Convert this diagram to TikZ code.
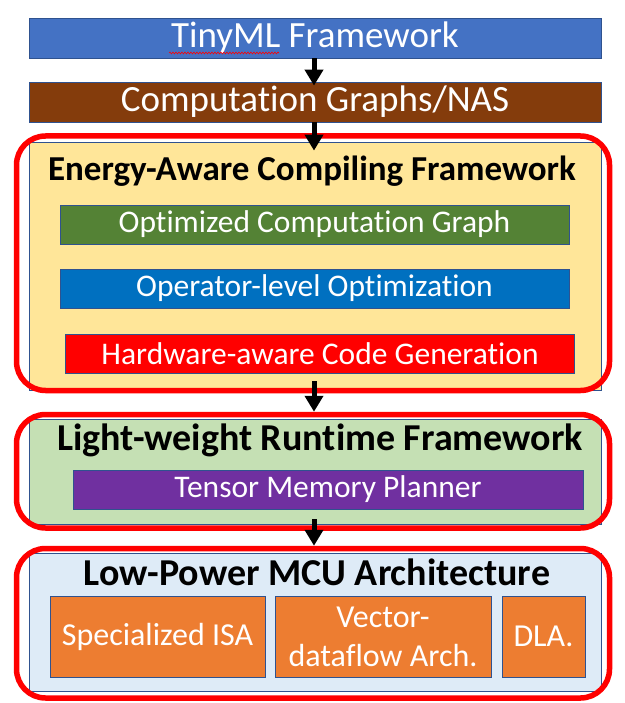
\documentclass[tikz,border=0pt]{standalone}
\usepackage{fontspec}
\setmainfont{Carlito}[RawFeature=-liga,RawFeature=-clig,RawFeature=-dlig,RawFeature=-calt]
\usetikzlibrary{positioning, arrows.meta, decorations.pathmorphing}

\definecolor{tinyblue}{HTML}{4472C4}
\definecolor{graphbrown}{HTML}{843C0C}
\definecolor{edgeblue}{HTML}{2F528F}
\definecolor{compyellow}{HTML}{FFE699}
\definecolor{optgreen}{HTML}{548235}
\definecolor{opblue}{HTML}{0070C0}
\definecolor{genred}{HTML}{FF0000}
\definecolor{runtimegreen}{HTML}{C5E0B4}
\definecolor{plannerpurple}{HTML}{7030A0}
\definecolor{mcublue}{HTML}{DEEBF7}
\definecolor{hworange}{HTML}{ED7D31}

\begin{document}
\begin{tikzpicture}[x=1pt,y=-1pt,on grid,
    box/.style={draw=edgeblue,line width=0.8pt,text=white,inner sep=0pt,
      minimum width=572pt,minimum height=40pt,font=\fontsize{37}{44}\selectfont},
    sub/.style={box,minimum width=509pt,minimum height=39pt,font=\fontsize{31.5}{38}\selectfont},
    hw/.style={box,fill=hworange,minimum height=81pt,align=center,font=\fontsize{32}{39}\selectfont},
    region/.style={draw=edgeblue,line width=0.8pt,minimum width=572pt,inner sep=0pt},
    frame/.style={draw=genred,line width=5.5pt,rounded corners=29pt,minimum width=593pt,inner sep=0pt},
    title/.style={font=\bfseries\fontsize{38}{45}\selectfont},
    flow/.style={-{Triangle[width=18pt,length=16pt]},line width=5pt}]
    \useasboundingbox (0,0) rectangle (624,703);

    % input side
    \node[box,fill=tinyblue] (tiny) at (315,38) {TinyML Framework};
    \node[box,fill=graphbrown,below=64pt of tiny] (comp) {Computation Graphs/NAS};
    \draw[genred,line width=0.6pt,decorate,decoration={snake,amplitude=0.9pt,segment length=3pt}]
      (169,53) -- (279,53);

    % compiler
    \node[region,fill=compyellow,minimum height=248pt] (compile) at (315,266) {};
    \node[frame,minimum height=254.5pt] (compframe) at (313,263.25) {};
    \node[title,font=\bfseries\fontsize{35}{42}\selectfont] (energy) at (312,171) {Energy-Aware Compiling Framework};
    \node[sub,fill=optgreen] (optgraph) at (314.5,224.5) {Optimized Computation Graph};
    \node[sub,fill=opblue,below=64pt of optgraph] (opopt) {Operator-level Optimization};
    \node[sub,fill=genred,below right=65pt and 5.5pt of opopt] (hwgen) {Hardware-aware Code Generation};

    % runtime
    \node[region,fill=runtimegreen,minimum height=105pt] (runtime) at (315,471.5) {};
    \node[frame,minimum height=113.5pt] (runframe) at (313,471.25) {};
    \node[title] (light) at (320,440) {Light-weight Runtime Framework};
    \node[sub,fill=plannerpurple,minimum width=510pt] (planner) at (328,489.5) {Tensor Memory Planner};

    % hardware
    \node[region,fill=mcublue,minimum height=138pt] (mcu) at (315,622) {};
    \node[frame,minimum height=149.5pt] (mcuframe) at (313,623.25) {};
    \node[title] (low) at (317,572) {Low-Power MCU Architecture};
    \node[hw,minimum width=215pt] (isa) at (157.5,636.5) {Specialized ISA};
    \node[hw,minimum width=216pt,right=225.5pt of isa] (vec) {Vector-\\dataflow Arch.};
    \node[hw,minimum width=83pt,right=160.5pt of vec] (dla) {DLA.};

    \path[flow]
    (tiny.south -| 314,0) edge ([yshift=-4pt]comp.north -| 314,0)
    (comp.south -| 314,0) edge ([yshift=-9pt]compile.north -| 314,0)
    ([yshift=9pt]compile.south -| 314,0) edge (runframe.north -| 314,0)
    ([yshift=5pt]runtime.south -| 314,0) edge (mcuframe.north -| 314,0);
\end{tikzpicture}
\end{document}
